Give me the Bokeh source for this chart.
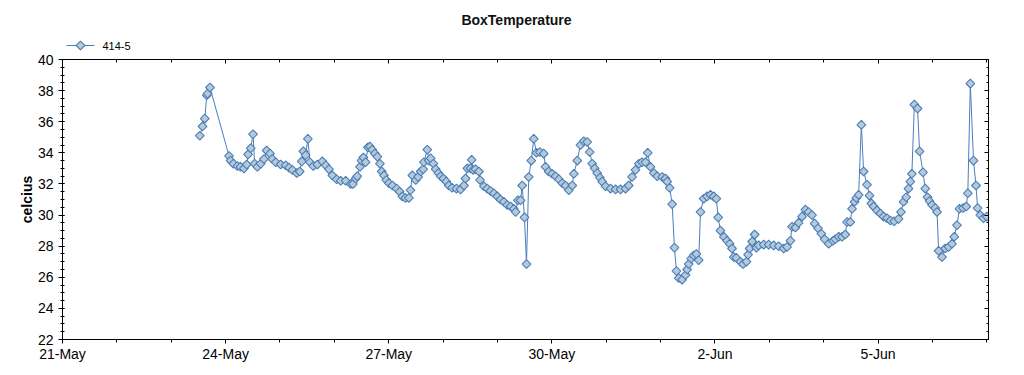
from bokeh.plotting import figure
from bokeh.models import (ColumnDataSource, FixedTicker, LinearAxis, Range1d, Label)
from bokeh.layouts import column
from bokeh.embed import file_html
from bokeh.resources import INLINE
import math

# ---- data: hours after 23-May 00:00, temperature in celcius ----
chart_title = "BoxTemperature"
series_name = "414-5"
hours = [12.6, 13.8, 14.8, 15.7, 16.0, 17.1,
         25.5, 26.2, 27.4, 29.2, 30.5, 32.1, 33.3, 33.9, 35.1, 36.1,
         36.8, 38.0, 39.5, 40.9, 42.1, 43.6, 44.6, 46.1, 48.3, 50.5,
         52.0, 53.5, 55.4, 56.7, 57.6, 58.3, 59.3, 60.3, 61.2, 62.7,
         64.5, 66.7, 68.2, 69.6, 71.1, 73.0, 74.8, 77.0, 79.2, 80.2,
         81.4, 82.1, 83.3, 84.0, 84.8, 85.8, 86.8, 87.7, 88.7, 89.9,
         91.0, 92.1, 92.9, 93.9, 94.9, 96.1, 97.6, 99.5, 100.8, 102.0,
         103.4, 104.9, 105.6, 106.4, 107.9, 109.0, 110.1, 111.2, 111.5, 113.0,
         113.7, 114.5, 115.7, 116.7, 117.9, 118.9, 120.1, 121.4, 122.5, 124.0,
         125.9, 127.7, 129.2, 129.9, 130.7, 132.1, 132.6, 133.3, 134.3, 135.8,
         136.3, 138.0, 139.5, 140.9, 142.4, 143.9, 145.3, 146.8, 148.3, 149.8,
         151.2,
         152.0, 153.0, 154.2, 154.9, 155.9, 156.8, 157.8, 158.9, 160.0, 161.2,
         162.7, 164.4, 165.2, 166.6, 168.1, 169.6, 171.1, 172.6, 174.0, 175.5,
         177.0, 177.7, 179.2, 180.6, 182.1, 183.6, 184.7, 185.8, 186.9, 188.0,
         189.2, 190.2, 191.7, 193.9, 196.1, 198.3, 200.5, 201.9, 203.4, 204.9,
         206.4, 207.8, 209.3, 210.3, 211.5, 213.0, 214.5, 216.7, 218.1, 218.9,
         220.0, 221.1, 222.1, 223.0,
         224.0, 225.5, 227.0, 227.7, 228.4, 229.5, 230.6, 231.8, 232.8, 233.6,
         235.0, 236.5, 238.0, 239.4, 240.6, 241.4, 242.4, 243.9, 245.3, 246.5,
         247.5, 248.3, 249.4, 251.2, 252.4, 253.9, 254.6, 255.3, 256.4, 257.5,
         258.3, 259.3, 261.5, 263.7, 265.9, 268.1, 270.3, 271.8, 273.3, 274.0,
         275.5, 276.9, 278.4, 279.9, 281.3, 282.8, 284.0, 285.5, 286.9, 288.4,
         290.2, 292.1,
         293.1, 294.6, 296.1, 297.5, 298.3, 299.7, 300.5, 301.6, 302.4, 303.4,
         304.6, 305.6, 307.1, 308.2, 309.0, 310.0, 311.5, 313.0, 314.4, 315.9,
         317.4, 319.1, 321.0, 322.1, 323.2, 324.4, 325.4, 326.2, 326.9, 328.0,
         329.4, 330.3, 331.8, 332.8, 333.8, 334.7, 335.8, 337.2, 338.0, 338.7,
         340.2, 341.6, 343.1, 344.6, 345.6, 346.8, 347.9, 349.5, 350.9, 351.6,
         352.7, 354.1, 355.2, 355.9, 357.1, 358.5, 360.0]
celcius = [35.1, 35.7, 36.2, 37.7, 37.8, 38.2,
           33.8, 33.5, 33.3, 33.15, 33.1, 33.0, 33.25, 33.9, 34.3, 35.2,
           33.3, 33.1, 33.3, 33.6, 34.15, 33.95, 33.6, 33.4, 33.25, 33.2,
           33.05, 32.9, 32.7, 32.8, 33.45, 34.1, 33.85, 34.9, 33.4, 33.15,
           33.25, 33.45, 33.2, 32.95, 32.55, 32.3, 32.2, 32.2, 32.0, 32.0,
           32.35, 32.5, 33.1, 33.5, 33.7, 33.4, 34.35, 34.4, 34.2, 33.95,
           33.75, 33.3, 32.8, 32.55, 32.25, 32.05, 31.9, 31.7, 31.5, 31.2,
           31.1, 31.1, 31.6, 32.55, 32.25, 32.45, 32.8, 32.95, 33.4, 34.2,
           33.5, 33.65, 33.3, 32.95, 32.7, 32.5, 32.35, 32.15, 31.9, 31.75,
           31.7, 31.65, 31.9, 32.35, 33.0, 33.0, 33.55, 32.9, 32.95, 32.8,
           32.25, 31.85, 31.7, 31.55, 31.4, 31.2, 31.0, 30.85, 30.65, 30.55,
           30.4,
           30.2, 30.95, 30.95, 31.9, 29.85, 26.85, 32.45, 33.5, 34.9, 34.0,
           34.05, 33.95, 33.1, 32.8, 32.65, 32.5, 32.3, 32.05, 31.9, 31.6,
           31.9, 32.65, 33.5, 34.5, 34.75, 34.7, 34.05, 33.3, 33.0, 32.7,
           32.4, 32.15, 31.85, 31.7, 31.65, 31.65, 31.7, 31.9, 32.45, 32.9,
           33.3, 33.4, 33.4, 34.0, 33.1, 32.7, 32.5, 32.45, 32.35, 32.15,
           31.75, 30.7, 27.9, 26.4,
           25.95, 25.85, 26.15, 26.5, 26.85, 27.2, 27.4, 27.5, 27.1, 30.2,
           31.05, 31.2, 31.3, 31.2, 31.05, 29.85, 29.0, 28.6, 28.35, 28.15,
           27.85, 27.3, 27.25, 27.0, 26.85, 27.0, 27.45, 27.85, 28.3, 28.75,
           27.9, 28.05, 28.1, 28.1, 28.05, 28.0, 27.85, 27.95, 28.35, 29.25,
           29.2, 29.5, 29.9, 30.35, 30.2, 30.0, 29.45, 29.15, 28.8, 28.45,
           28.15, 28.35,
           28.45, 28.6, 28.6, 28.75, 29.55, 29.55, 30.4, 30.85, 31.1, 31.3,
           35.8, 32.8, 31.95, 31.25, 30.75, 30.55, 30.3, 30.1, 29.9, 29.8,
           29.65, 29.6, 29.75, 30.2, 30.85, 31.15, 31.7, 32.15, 32.65, 37.1,
           36.85, 34.1, 32.75, 31.7, 31.15, 30.9, 30.65, 30.45, 30.2, 27.7,
           27.3, 27.85, 27.95, 28.15, 28.6, 29.35, 30.4, 30.45, 30.55, 31.4,
           38.45, 33.5, 31.9, 30.45, 30.0, 29.8, 29.9]

# x axis: days after 21-May 00:00
tick_days = [0, 3, 6, 9, 12, 15]
tick_labels = ["21-May", "24-May", "27-May", "30-May", "2-Jun", "5-Jun"]
minor_days = list(range(0, 18))
x_end_days = 17.03
y_ticks = [22, 24, 26, 28, 30, 32, 34, 36, 38, 40]

days = [2 + h / 24.0 for h in hours]
src = ColumnDataSource(dict(x=days, y=celcius))

FONT = "Liberation Sans"
LINE = "#4a7ebb"
FILL = "#b6c9d6"
MARK = dict(marker="square", angle=math.pi / 4, size=6.2,
            fill_color=FILL, line_color=LINE, line_width=1.1)

W = 1016
BL, BR = 62, 28

# ---------- header strip: title + legend (pixel-unit ranges) ----------
top = figure(width=W, height=52, output_backend="svg", toolbar_location=None,
             x_range=Range1d(BL, W - BR), y_range=Range1d(52, 0),
             x_axis_type=None, y_axis_type=None,
             min_border_left=BL, min_border_right=BR,
             min_border_top=0, min_border_bottom=0,
             outline_line_color=None, background_fill_color="white",
             border_fill_color="white")
top.title_location = None
top.xgrid.visible = False
top.ygrid.visible = False
top.add_layout(Label(x=516, y=19, text=chart_title, text_align="center",
                     text_baseline="middle", text_font=FONT,
                     text_font_size="14px", text_font_style="bold",
                     text_color="#111111"))
top.segment(x0=[66], y0=[45], x1=[94], y1=[45], line_color=LINE, line_width=1)
top.scatter(x=[80], y=[45], **MARK)
top.add_layout(Label(x=102, y=45, text=series_name, text_align="left",
                     text_baseline="middle", text_font=FONT,
                     text_font_size="11px", text_color="black"))

# ---------- main chart ----------
p = figure(width=W, height=323, output_backend="svg", toolbar_location=None,
           x_range=Range1d(0, x_end_days), y_range=Range1d(22, 40),
           x_axis_type=None, y_axis_type=None,
           min_border_left=BL, min_border_right=BR, min_border_top=7,
           min_border_bottom=36, background_fill_color="white",
           border_fill_color="white")
p.title_location = None
p.outline_line_color = "black"
p.xgrid.visible = False
p.ygrid.visible = False

xt = FixedTicker(ticks=tick_days, minor_ticks=minor_days)
yt = FixedTicker(ticks=y_ticks, minor_ticks=[22 + 0.5 * i for i in range(37)])

xb = LinearAxis(ticker=xt)
xb.major_label_overrides = {d: l for d, l in zip(tick_days, tick_labels)}
xb.major_tick_out = 4
xb.major_tick_in = 0
xb.minor_tick_out = 3
xb.minor_tick_in = 0
xb.major_label_standoff = 2
p.add_layout(xb, "below")

yl = LinearAxis(ticker=yt, axis_label="celcius")
yl.major_tick_out = 4
yl.major_tick_in = 2
yl.minor_tick_out = 2
yl.minor_tick_in = 2
yl.axis_label_standoff = 0
yl.axis_label_text_font_style = "bold"
yl.axis_label_text_font_size = "14px"
yl.axis_label_text_font = FONT
yl.axis_label_text_color = "black"
p.add_layout(yl, "left")

xtop = LinearAxis(ticker=xt)
xtop.major_tick_in = 4
xtop.major_tick_out = 0
xtop.minor_tick_in = 3
xtop.minor_tick_out = 0
xtop.major_label_text_font_size = "0px"
xtop.major_label_standoff = 0
p.add_layout(xtop, "above")

yr = LinearAxis(ticker=yt)
yr.major_tick_in = 4
yr.major_tick_out = 0
yr.minor_tick_in = 2
yr.minor_tick_out = 0
yr.major_label_text_font_size = "0px"
yr.major_label_standoff = 0
p.add_layout(yr, "right")

for ax in (xb, yl, xtop, yr):
    ax.axis_line_color = "black"
    ax.major_tick_line_color = "black"
    ax.minor_tick_line_color = "black"
    ax.major_label_text_font = FONT
    ax.major_label_text_color = "black"
xb.major_label_text_font_size = "14px"
yl.major_label_text_font_size = "14px"

p.line("x", "y", source=src, line_color=LINE, line_width=1)
p.scatter("x", "y", source=src, **MARK)

layout = column(top, p, spacing=0)
open("out.html", "w").write(file_html(layout, INLINE))
